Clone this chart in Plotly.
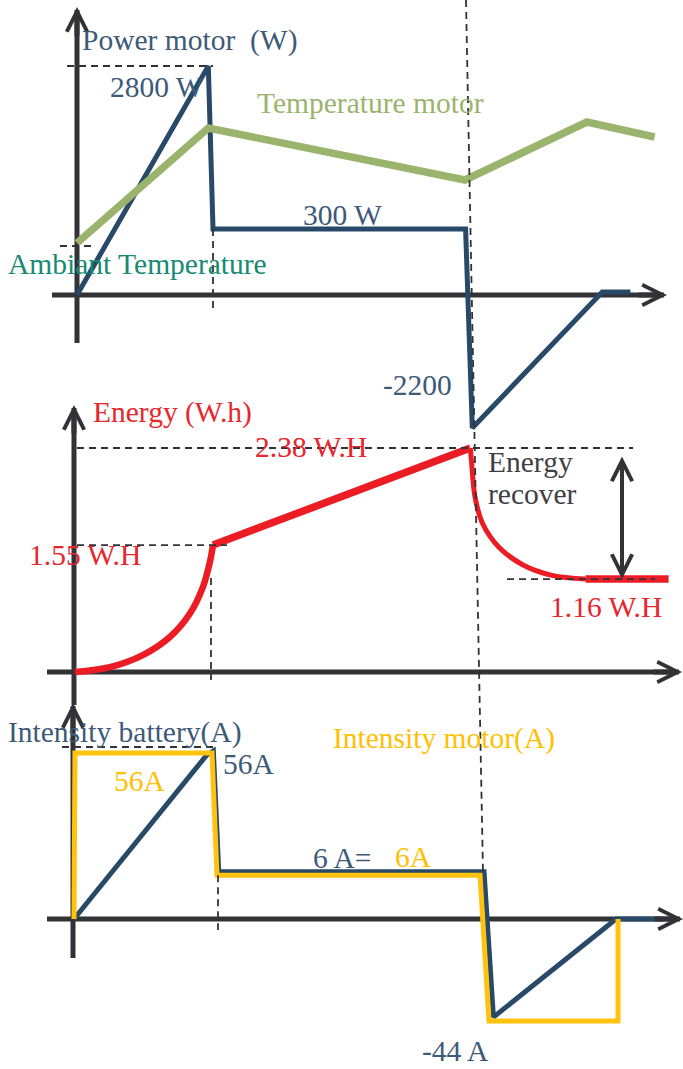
import plotly.graph_objects as go

W, H = 683, 1069
FONT = "Liberation Serif"
FS = 29.5

AXIS = "#333337"
BLUE = "#284A68"
BLUE_TXT = "#3D5A78"
GREEN = "#9BB46D"
RED = "#EC1C24"
RED_TXT = "#E8262D"
YELLOW = "#FFC20E"
YELLOW_TXT = "#FFC000"
TEAL = "#178A72"
GREY_TXT = "#3F3F44"

# ---------------- data (schematic drawn levels) -------------
# panel 1 : motor power (W) and motor temperature (deg C)
power_t = [0, 9.8, 10.15, 29.0, 29.5, 39.2, 41.3]
power_w = [0, 2800, 807, 807, -1626, 37, 37]
temp_t = [0, 9.8, 28.95, 38.05, 43.1]
temp_c = [25, 82.5, 56.5, 85.5, 78]
ambient_c = 23.5

# panel 2 : battery energy (W.h)
energy_rise_t = [0, 2.6, 5.1, 7.1, 8.6, 9.55, 10.05, 10.3]
energy_rise_wh = [0, 0.06, 0.21, 0.43, 0.72, 1.04, 1.33, 1.55]
energy_cruise_t = [10.3, 29.5]
energy_cruise_wh = [1.55, 2.735]
energy_regen_t = [29.5, 29.6, 29.85, 30.4, 31.6, 33.4, 35.6, 38.1]
energy_regen_wh = [2.735, 2.55, 2.14, 1.82, 1.53, 1.31, 1.18, 1.135]
energy_rest_t = [38.1, 44.3]
energy_rest_wh = [1.135, 1.135]

# panel 3 : currents (A)
batt_t = [0, 9.9, 10.4, 10.8, 30.6, 31.3, 40.45, 43.95]
batt_a = [0, 55.3, 56.7, 15.9, 15.9, -33.1, 0, 0]
motor_t = [0, 0.07, 10.3, 10.67, 30.3, 30.97, 40.6, 40.6]
motor_a = [0, 56, 56, 14.8, 14.8, -34.4, -34.4, 0]

# text labels
power_labels = ["2800 W", "300 W", "-2200"]
energy_labels = ["2.38 W.H", "1.55 W.H", "1.16 W.H"]
current_labels = ["56A", "56A", "6 A=", "6A", "-44 A"]

# ---------------- layout geometry (pixel scale of each panel) -------------
PX_PER_S = 13.4
X0 = [77, 75, 74]            # pixel x of t=0 in each panel
Y0 = [295, 672, 919]         # pixel y of value 0 in each panel
YS = [229 / 2800, 81.9, 166 / 56]  # pixels per unit
T_Y0, T_S = 243, 2.0         # temperature axis: pixel of 25 C, px per C


def tx(p, xpx):
    return (xpx - X0[p]) / PX_PER_S


def vy(p, ypx):
    return (Y0[p] - ypx) / YS[p]


fig = go.Figure()

# panel 1
fig.add_trace(go.Scatter(x=temp_t, y=temp_c, mode="lines", xaxis="x", yaxis="y4",
                         line=dict(color=GREEN, width=7.5), showlegend=False))
fig.add_trace(go.Scatter(x=power_t, y=power_w, mode="lines", xaxis="x", yaxis="y",
                         line=dict(color=BLUE, width=5), showlegend=False))
# panel 2
fig.add_trace(go.Scatter(x=energy_rise_t, y=energy_rise_wh, mode="lines", xaxis="x2", yaxis="y2",
                         line=dict(color=RED, width=6.5, shape="spline"), showlegend=False))
fig.add_trace(go.Scatter(x=energy_cruise_t, y=energy_cruise_wh, mode="lines", xaxis="x2", yaxis="y2",
                         line=dict(color=RED, width=7.5), showlegend=False))
fig.add_trace(go.Scatter(x=energy_regen_t, y=energy_regen_wh, mode="lines", xaxis="x2", yaxis="y2",
                         line=dict(color=RED, width=5, shape="spline"), showlegend=False))
fig.add_trace(go.Scatter(x=energy_rest_t, y=energy_rest_wh, mode="lines", xaxis="x2", yaxis="y2",
                         line=dict(color=RED, width=7.5), showlegend=False))
# panel 3
fig.add_trace(go.Scatter(x=batt_t, y=batt_a, mode="lines", xaxis="x3", yaxis="y3",
                         line=dict(color=BLUE, width=5), showlegend=False))
fig.add_trace(go.Scatter(x=motor_t, y=motor_a, mode="lines", xaxis="x3", yaxis="y3",
                         line=dict(color=YELLOW, width=5), showlegend=False))

shapes = []


def seg(p, x0, y0, x1, y1, color=AXIS, width=5, dash=None, layer="below"):
    xr = "x" if p == 0 else "x%d" % (p + 1)
    yr = "y" if p == 0 else "y%d" % (p + 1)
    ln = dict(color=color, width=width)
    if dash:
        ln["dash"] = dash
    shapes.append(dict(type="line", xref=xr, yref=yr, x0=x0, y0=y0, x1=x1, y1=y1,
                       line=ln, layer=layer))


DASH = "7px,5px"
# axes lines
seg(0, 0, vy(0, 343), 0, vy(0, 10))
seg(0, tx(0, 52), 0, tx(0, 664), 0)
seg(1, tx(1, 74), vy(1, 705), tx(1, 74), vy(1, 408))
seg(1, tx(1, 47), 0, tx(1, 679), 0)
seg(2, tx(2, 73), vy(2, 958), tx(2, 73), vy(2, 706))
seg(2, tx(2, 47), 0, tx(2, 680), 0)

# guide dashed lines
seg(0, tx(0, 67), power_w[1], power_t[2], power_w[1], width=1.8, dash=DASH, layer="above")
seg(0, power_t[2], power_w[2], power_t[2], vy(0, 308), width=1.8, dash=DASH, layer="above")
shapes.append(dict(type="line", xref="x", yref="y4", x0=tx(0, 60), x1=tx(0, 92), y0=ambient_c, y1=ambient_c,
                   line=dict(color=AXIS, width=1.8, dash=DASH), layer="above"))
shapes.append(dict(type="line", xref="x", yref="paper", x0=tx(0, 466), x1=tx(0, 483),
                   y0=1.0, y1=1 - 872 / H, line=dict(color=AXIS, width=1.8, dash=DASH), layer="above"))
seg(1, tx(1, 77), energy_cruise_wh[1], tx(1, 633), energy_cruise_wh[1], width=1.8, dash=DASH, layer="above")
seg(1, tx(1, 77), energy_rise_wh[-1], tx(1, 227), energy_rise_wh[-1], width=1.8, dash=DASH, layer="above")
seg(1, tx(1, 507), energy_rest_wh[0], tx(1, 655), energy_rest_wh[0], width=1.8, dash=DASH, layer="above")
seg(1, tx(1, 211), vy(1, 578), tx(1, 211), vy(1, 680), width=1.8, dash=DASH, layer="above")
seg(2, tx(2, 62), vy(2, 747), tx(2, 213), vy(2, 747), width=1.8, dash=DASH, layer="above")
seg(2, tx(2, 218), motor_a[3], tx(2, 218), vy(2, 930), width=1.8, dash=DASH, layer="above")

annotations = []


def arrow(p, x, y, ax, ay):
    xr = "x" if p == 0 else "x%d" % (p + 1)
    yr = "y" if p == 0 else "y%d" % (p + 1)
    annotations.append(dict(xref=xr, yref=yr, x=x, y=y, ax=ax, ay=ay, text="", showarrow=True,
                            arrowhead=5, arrowwidth=5, arrowsize=0.8, arrowcolor=AXIS, standoff=0))


arrow(0, 0, vy(0, 7), 0, 30)
arrow(0, tx(0, 667), 0, -30, 0)
arrow(1, tx(1, 74), vy(1, 405), 0, 30)
arrow(1, tx(1, 682), 0, -30, 0)
arrow(2, tx(2, 73), vy(2, 703), 0, 30)
arrow(2, tx(2, 683), 0, -30, 0)

# energy recover double arrow
annotations.append(dict(xref="x2", yref="y2", axref="x2", ayref="y2",
                        x=tx(1, 622), y=energy_rest_wh[0], ax=tx(1, 622), ay=vy(1, 455),
                        text="", showarrow=True, arrowhead=5, startarrowhead=5, arrowside="end+start",
                        arrowwidth=4, arrowsize=1.0, startarrowsize=1.0, arrowcolor=AXIS, standoff=0,
                        startstandoff=0))


def txt(s, xpx, ypx, color, yanchor="middle"):
    annotations.append(dict(xref="paper", yref="paper", x=(xpx - 2) / W, y=1 - ypx / H,
                            xanchor="left", yanchor=yanchor, text=s, showarrow=False,
                            font=dict(family=FONT, size=FS, color=color)))


txt("Power motor\u00a0\u00a0(W)", 82, 40.5, BLUE_TXT)
txt(power_labels[0], 110, 87, BLUE_TXT)
txt("Temperature motor", 257, 102.5, GREEN)
txt(power_labels[1], 303, 215, BLUE_TXT)
txt("Ambiant Temperature", 8, 263.5, TEAL)
txt(power_labels[2], 383, 385, BLUE_TXT)
txt("Energy (W.h)", 93, 412, RED_TXT)
txt(energy_labels[0], 255, 447, RED_TXT)
txt("Energy", 488, 462, GREY_TXT)
txt("recover", 488, 493.5, GREY_TXT)
txt(energy_labels[1], 29, 555, RED_TXT)
txt(energy_labels[2], 550, 607, RED_TXT)
txt("Intensity battery(A)", 8, 732.5, BLUE_TXT)
txt("Intensity motor(A)", 333, 738, YELLOW_TXT)
txt(current_labels[0], 114, 781, YELLOW_TXT)
txt(current_labels[1], 223, 764, BLUE_TXT)
txt(current_labels[2], 313, 858, BLUE_TXT)
txt(current_labels[3], 395, 857, YELLOW_TXT)
txt(current_labels[4], 422, H, BLUE_TXT, yanchor="bottom")


def xrange_(p):
    return [tx(p, 0), tx(p, W)]


def yrange_(p):
    return [vy(p, H), vy(p, 0)]


hidden = dict(visible=False, fixedrange=True)
fig.update_layout(
    width=W, height=H, margin=dict(l=0, r=0, t=0, b=0),
    paper_bgcolor="white", plot_bgcolor="rgba(0,0,0,0)", showlegend=False,
    xaxis=dict(domain=[0, 1], range=xrange_(0), anchor="y", **hidden),
    yaxis=dict(domain=[0, 1], range=yrange_(0), anchor="x", **hidden),
    yaxis4=dict(overlaying="y", anchor="x", range=[25 - (H - T_Y0) / T_S, 25 + T_Y0 / T_S], **hidden),
    xaxis2=dict(domain=[0, 1], range=xrange_(1), anchor="y2", **hidden),
    yaxis2=dict(domain=[0, 1], range=yrange_(1), anchor="x2", **hidden),
    xaxis3=dict(domain=[0, 1], range=xrange_(2), anchor="y3", **hidden),
    yaxis3=dict(domain=[0, 1], range=yrange_(2), anchor="x3", **hidden),
    shapes=shapes, annotations=annotations,
)

fig.write_html("out.html", config={"displayModeBar": False},
               post_script="document.body.style.margin='0';document.body.style.overflow='hidden';")
